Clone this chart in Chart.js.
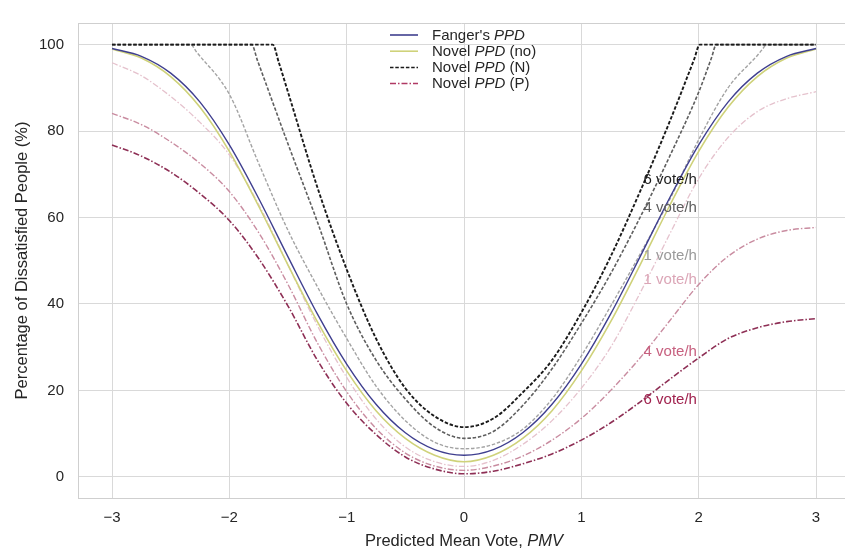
<!DOCTYPE html>
<html><head><meta charset="utf-8">
<script src="https://cdn.jsdelivr.net/npm/chart.js@4.4.1/dist/chart.umd.min.js"></script>
<style>html,body{margin:0;padding:0;background:#fff}canvas{display:block}</style>
</head><body>
<canvas id="c" width="845" height="552"></canvas>
<script>
// ---------- data ----------
const pmvGrid = [-3,-2.75,-2.5,-2.25,-2,-1.75,-1.5,-1.25,-1,-0.75,-0.5,-0.25,0,0.25,0.5,0.75,1,1.25,1.5,1.75,2,2.25,2.5,2.75,3];
const fangerPPD = [99.1,97.3,93.4,86.7,76.8,64.4,50.9,37.7,26.1,16.8,10.2,6.3,5.0,6.3,10.2,16.8,26.1,37.7,50.9,64.4,76.8,86.7,93.4,97.3,99.1];
const novelNo   = [99.0,96.9,92.6,85.5,75.3,62.6,49.0,35.9,24.5,15.3,8.9,5.0,3.5,5.0,8.9,15.3,24.5,35.9,49.0,62.6,75.3,85.5,92.6,96.9,99.0];
const novelP1   = [95.8,92.8,88.0,82.0,74.5,63.0,49.0,35.0,23.0,13.4,6.9,3.5,2.4,3.8,7.5,13.0,20.5,30.0,42.5,56.0,69.0,78.5,84.5,87.5,89.1];
const novelP4   = [84.1,81.5,77.5,72.5,66.0,56.5,44.5,31.0,19.7,11.2,5.5,2.5,1.5,2.5,4.8,8.5,13.5,20.0,27.5,36.0,44.5,51.0,55.0,57.0,57.7];
const novelP6   = [76.8,74.2,70.5,65.5,59.3,50.5,39.5,27.0,17.0,9.8,4.6,1.8,0.7,1.3,3.0,5.3,8.5,12.5,17.3,22.5,27.5,32.0,34.5,35.9,36.6];

const n6PMV = [-3,-1.63,-1.58,-1.5,-1.25,-1,-0.75,-0.5,-0.25,0,0.25,0.5,0.75,1,1.25,1.5,1.75,1.96,2.01,3];
const n6PPD = [100,100,96,89,67,48,32,20.5,14,11.5,13.5,19.5,27,38,51,66,82,96.5,100,100];
const n4PMV = [-3,-1.81,-1.76,-1.5,-1.25,-1,-0.75,-0.5,-0.25,0,0.25,0.5,0.75,1,1.25,1.5,1.75,2,2.11,2.15,3];
const n4PPD = [100,100,96.3,77,59,40,27,18,11.5,8.9,10.5,16.5,25,35.5,47,60,74,89,97,100,100];
const n1PMV = [-3,-2.33,-2.28,-2,-1.75,-1.5,-1.25,-1,-0.75,-0.5,-0.25,0,0.25,0.5,0.75,1,1.25,1.5,1.75,2,2.25,2.5,2.54,2.58,3];
const n1PPD = [100,100,98.3,88.5,72.5,57,44,32,21,13,8,6.5,7.5,11,18,28,39.5,51.5,64,78,90,97.5,98.8,100,100];

const xTicks = [-3,-2,-1,0,1,2,3];
const xTickLabels = ['\u22123','\u22122','\u22121','0','1','2','3'];
const yTicks = [0,20,40,60,80,100];
const yTickLabels = ['0','20','40','60','80','100'];

const legendLabels = [["Fanger's ","PPD",""],["Novel ","PPD"," (no)"],["Novel ","PPD"," (N)"],["Novel ","PPD"," (P)"]];
const curveLabelText = ['6 vote/h','4 vote/h','1 vote/h','1 vote/h','4 vote/h','6 vote/h'];
const curveLabelPMV  = [1.53,1.53,1.53,1.53,1.53,1.53];
const curveLabelPPD  = [68.6,62.2,51.2,45.6,29.0,17.7];
const xTitle = ["Predicted Mean Vote, ","PMV"];
const yTitle = "Percentage of Dissatisfied People (%)";

// ---------- styles ----------
const FONT = '"Liberation Sans", Arial, sans-serif';
const TXT = '#262626';
const GRID = '#d9d9d9';
const DASH_N = [3.5, 1.8];
const DASH_P = [6, 2, 1.5, 2];
const curveLabelColor = ['#1e1e1e','#5e5e5e','#9a9a9a','#dba5b6','#c7607f','#a1234f'];

const pts = (xs, ys) => xs.map((x, i) => ({x: x, y: ys[i]}));
const line = (data, color, width, dash, order) => ({
  data, borderColor: color, borderWidth: width, borderDash: dash || [],
  pointRadius: 0, fill: false, cubicInterpolationMode: 'monotone', order: order
});

const datasets = [
  line(pts(pmvGrid, novelP1), '#e5c2cd', 1.3, DASH_P, 9),
  line(pts(pmvGrid, novelP4), '#c98ca0', 1.4, DASH_P, 8),
  line(pts(pmvGrid, novelP6), '#8e2f55', 1.6, DASH_P, 7),
  line(pts(n1PMV, n1PPD), '#a3a3a3', 1.4, DASH_N, 6),
  line(pts(n4PMV, n4PPD), '#5f5f5f', 1.6, DASH_N, 5),
  line(pts(n6PMV, n6PPD), '#1a1a1a', 1.9, DASH_N, 4),
  line(pts(pmvGrid, novelNo), '#cfd27a', 1.6, [], 3),
  line(pts(pmvGrid, fangerPPD), '#3f3f8f', 1.4, [], 2)
];

function drawRich(ctx, parts, italicIdx, size, x, y, align) {
  const fonts = parts.map((p, i) => (italicIdx.includes(i) ? 'italic ' : '') + size + 'px ' + FONT);
  let w = 0; const ws = [];
  parts.forEach((p, i) => { ctx.font = fonts[i]; const m = ctx.measureText(p).width; ws.push(m); w += m; });
  let cx = align === 'center' ? x - w / 2 : x;
  ctx.textAlign = 'left';
  parts.forEach((p, i) => { ctx.font = fonts[i]; ctx.fillText(p, cx, y); cx += ws[i]; });
}

const overlay = {
  id: 'overlay',
  beforeDatasetsDraw(chart) {
    const {ctx, chartArea: a} = chart;
    ctx.save();
    ctx.strokeStyle = '#cfcfcf'; ctx.lineWidth = 1;
    ctx.beginPath(); ctx.moveTo(a.left, a.top + 0.5); ctx.lineTo(a.right, a.top + 0.5); ctx.stroke();
    ctx.restore();
  },
  afterDraw(chart) {
    const {ctx, chartArea: a, scales} = chart;
    ctx.save();
    ctx.textBaseline = 'middle';
    curveLabelText.forEach((t, i) => {
      ctx.fillStyle = curveLabelColor[i];
      ctx.font = '15px ' + FONT; ctx.textAlign = 'left';
      ctx.fillText(t, scales.x.getPixelForValue(curveLabelPMV[i]), scales.y.getPixelForValue(curveLabelPPD[i]));
    });
    const styles = [
      {c: '#3f3f8f', d: [], w: 1.6}, {c: '#cfd27a', d: [], w: 1.6},
      {c: '#1a1a1a', d: DASH_N, w: 1.5}, {c: '#b03a64', d: DASH_P, w: 1.5}
    ];
    legendLabels.forEach((parts, i) => {
      const y = 35 + i * 16.2;
      ctx.strokeStyle = styles[i].c; ctx.lineWidth = styles[i].w; ctx.setLineDash(styles[i].d);
      ctx.beginPath(); ctx.moveTo(390, y); ctx.lineTo(418, y); ctx.stroke();
      ctx.setLineDash([]);
      ctx.fillStyle = TXT; ctx.textBaseline = 'middle';
      drawRich(ctx, parts, [1], 15, 432, y + 0.5, 'left');
    });
    ctx.fillStyle = TXT; ctx.textBaseline = 'middle';
    drawRich(ctx, xTitle, [1], 16.5, (a.left + 850) / 2, 541, 'center');
    ctx.translate(22, (a.top + a.bottom) / 2);
    ctx.rotate(-Math.PI / 2);
    ctx.font = '16.5px ' + FONT; ctx.textAlign = 'center';
    ctx.fillText(yTitle, 0, 0);
    ctx.restore();
  }
};

new Chart(document.getElementById('c'), {
  type: 'line',
  data: {datasets},
  options: {
    responsive: false, animation: false, devicePixelRatio: 1,
    layout: {padding: {top: 13, right: 0, left: 0, bottom: 0}},
    plugins: {legend: {display: false}, tooltip: {enabled: false}},
    scales: {
      x: {
        type: 'linear', min: -3.29, max: 3.247,
        afterBuildTicks: s => { s.ticks = xTicks.map(v => ({value: v})); },
        afterFit: s => { s.height = 54; },
        ticks: {callback: v => xTickLabels[xTicks.indexOf(v)], color: TXT, font: {size: 15, family: FONT}, padding: 11, maxRotation: 0, autoSkip: false},
        grid: {color: GRID, drawTicks: false},
        border: {color: '#cfcfcf'}
      },
      y: {
        type: 'linear', min: -4.9, max: 105,
        afterBuildTicks: s => { s.ticks = yTicks.map(v => ({value: v})); },
        afterFit: s => { s.width = 78; },
        ticks: {callback: v => yTickLabels[yTicks.indexOf(v)], color: TXT, font: {size: 15, family: FONT}, padding: 14, autoSkip: false},
        grid: {color: GRID, drawTicks: false},
        border: {color: '#cfcfcf'}
      }
    }
  },
  plugins: [overlay]
});
</script>
</body></html>
